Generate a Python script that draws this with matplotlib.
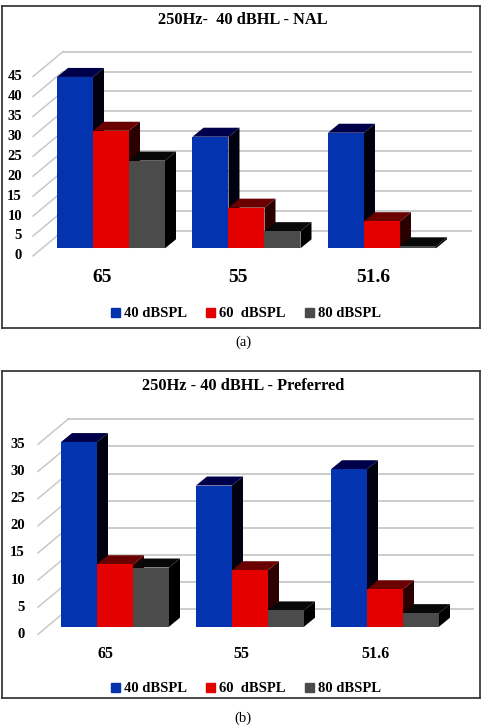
import matplotlib.pyplot as plt
from matplotlib.patches import Polygon, Patch

# ── Daten ─────────────────────────────────────────────────────────────────────
categories = ["65", "55", "51.6"]
series_names = ["40 dBSPL", "60  dBSPL", "80 dBSPL"]

nal_40 = [43, 28, 29]
nal_60 = [29.5, 10.2, 6.8]
nal_80 = [22, 4.3, 0.5]

pref_40 = [34, 26, 29]
pref_60 = [11.5, 10.4, 6.9]
pref_80 = [10.9, 3.0, 2.5]

nal_ticks = [0, 5, 10, 15, 20, 25, 30, 35, 40, 45]
pref_ticks = [0, 5, 10, 15, 20, 25, 30, 35]

# front / top / side Farbe je Serie
FRONT = ["#0433B0", "#E50000", "#4B4B4B"]
TOP = ["#00004A", "#6B0000", "#080808"]
SIDE = ["#00000F", "#2A0000", "#000000"]

FONT = "Liberation Serif"
W, H = 489, 725

fig = plt.figure(figsize=(W / 100, H / 100), dpi=100)


def panel(box, cx0, sp, base, scale, grid_x, diag_x, lab_x, title, title_y,
          cat_y, cat_size, leg_y, caption, cap_y, data, ticks):
    left, top, right, bottom = box
    ax = fig.add_axes([left / W, 1 - bottom / H, (right - left) / W, (bottom - top) / H])

    def X(px):
        return (px - cx0) / sp

    def V(py):
        return (base - py) / scale

    ax.set_xlim(X(left), X(right))
    ax.set_ylim(V(bottom), V(top))
    ax.set_xticks([])
    ax.set_yticks([])
    for s in ax.spines.values():
        s.set_color("#3A3A3A")
        s.set_linewidth(1.3)

    back_dy = 17.4 / scale
    floor_dy = 25 / scale

    # Rückwand-Gitter + Seitenwand-Diagonalen
    for v in ticks:
        yb = v + back_dy
        ax.plot([X(grid_x[0]), X(grid_x[1])], [yb, yb], color="#C8C8C8", lw=1.3, zorder=1)
        ax.plot([X(diag_x), X(grid_x[0])], [yb - floor_dy, yb], color="#C8C8C8", lw=1.1, zorder=1)
        ax.text(X(lab_x), yb - floor_dy, str(v), ha="right", va="center",
                fontsize=10.5, fontweight="bold", family=FONT)

    # 3D-Säulen
    w = 36 / sp
    ddx, ddy = 11 / sp, 9 / scale
    xs = list(range(len(categories)))
    for si, vals in enumerate(data):
        pos = [x + (si - 1) * w for x in xs]
        bars = ax.bar(pos, vals, width=w, color=FRONT[si], linewidth=0, zorder=2)
        for ci, (b, h) in enumerate(zip(bars, vals)):
            z = 3 + 3 * (ci * 3 + si)
            x0 = b.get_x()
            x1 = x0 + w
            ax.add_patch(Polygon([(x1, 0), (x1, h), (x1 + ddx, h + ddy), (x1 + ddx, ddy)],
                                 closed=True, color=SIDE[si], lw=0, zorder=z))
            ax.add_patch(Polygon([(x0, h), (x1, h), (x1 + ddx, h + ddy), (x0 + ddx, h + ddy)],
                                 closed=True, color=TOP[si], lw=0, zorder=z + 1))
            b.set_zorder(z + 2)

    for ci, c in enumerate(categories):
        ax.text(ci - 9 / sp, V(cat_y), c, ha="center", va="center",
                fontsize=cat_size, fontweight="bold", family=FONT)

    ax.text(X(243), V(title_y), title, ha="center", va="center",
            fontsize=11.8, fontweight="bold", family=FONT)

    handles = [Patch(color=c) for c in FRONT]
    ax.legend(handles, series_names, ncol=3, frameon=False, loc="center",
              bbox_to_anchor=(X(246), V(leg_y)), bbox_transform=ax.transData,
              prop={"family": FONT, "weight": "bold", "size": 10.5},
              handlelength=0.6, handleheight=0.6, handletextpad=0.3, columnspacing=1.3)

    fig.text(243 / W, 1 - cap_y / H, caption, ha="center", va="center",
             fontsize=10.5, family=FONT)


panel((2, 6, 480, 328), 111, 135.5, 248.3, 3.985, (63, 471), 33, 22,
      "250Hz-  40 dBHL - NAL", 20, 278, 14, 314, "(a)", 342,
      [nal_40, nal_60, nal_80], nal_ticks)

panel((2, 371, 480, 698), 115, 135, 626.7, 5.43, (68, 473), 38, 25,
      "250Hz - 40 dBHL - Preferred", 386, 654, 11.5, 689, "(b)", 718,
      [pref_40, pref_60, pref_80], pref_ticks)

fig.savefig("out.png", dpi=100)
